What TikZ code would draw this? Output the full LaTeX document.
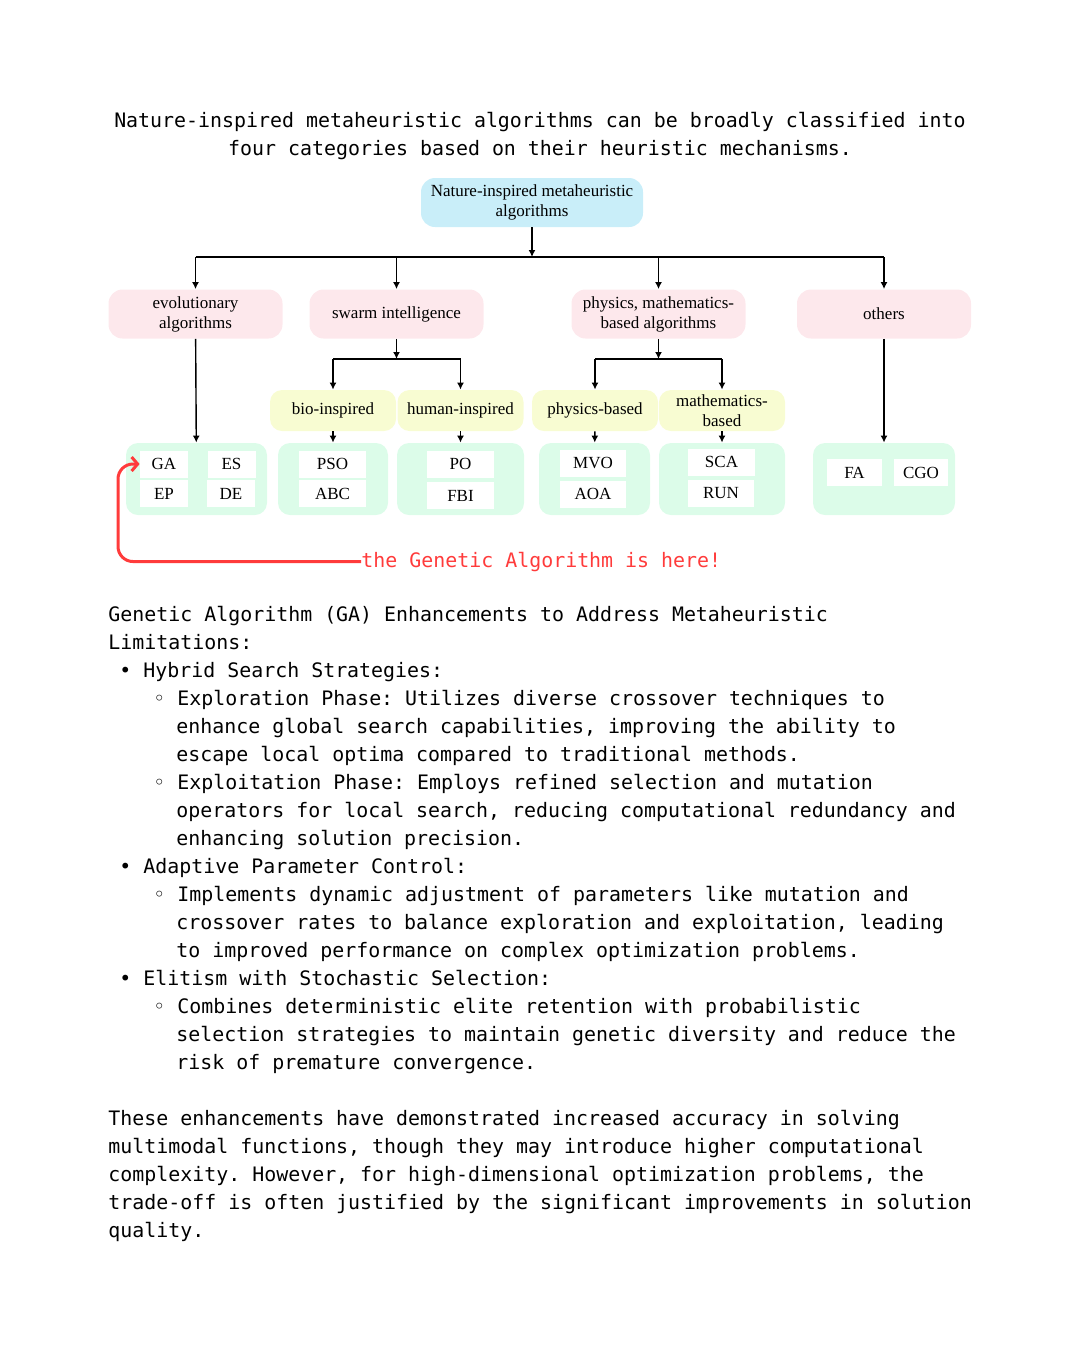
\documentclass[tikz,border=0pt]{standalone}
\usepackage{fontspec}
\setmainfont{Liberation Serif}
\newfontfamily\monofont{DejaVu Sans Mono}
\usetikzlibrary{arrows.meta}
\usetikzlibrary{calc}

\definecolor{rootblue}{RGB}{201,238,249}
\definecolor{catpink}{RGB}{253,232,236}
\definecolor{subyellow}{RGB}{248,252,210}
\definecolor{grpmint}{RGB}{220,252,233}
\definecolor{notered}{RGB}{255,59,59}

\tikzset{
  boxfont/.style={font=\fontsize{8.5}{10}\selectfont},
  conn/.style={-{Latex[length=3.5pt,width=3.5pt]}, line width=0.7pt},
  rootbox/.style={boxfont, fill=rootblue, rounded corners=7pt, minimum width=111pt, minimum height=24.5pt, align=center, inner sep=1pt},
  catbox/.style={boxfont, fill=catpink, rounded corners=7pt, minimum width=87pt, minimum height=24.5pt, align=center, inner sep=1pt},
  subbox/.style={boxfont, fill=subyellow, rounded corners=6pt, minimum width=63pt, minimum height=20.5pt, align=center, inner sep=1pt},
  grpbox/.style={fill=grpmint, rounded corners=6pt, minimum height=36pt, inner sep=0pt},
  algbox/.style={boxfont, fill=white, minimum height=13.5pt, inner sep=0pt},
  monotext/.style={font=\monofont\fontsize{9.96}{14}\selectfont\frenchspacing, anchor=base west, inner sep=0pt},
  notearrow/.style={-{Straight Barb[length=3pt,width=7pt]}, line width=1.5pt, notered, rounded corners=7.5pt}
}

\begin{document}
\begin{tikzpicture}[x=0.5pt,y=-0.5pt]

      \useasboundingbox (0,0) rectangle (1080,1350);

      % heading
      \node[monotext, anchor=base] (title1) at (540,127) {Nature-inspired metaheuristic algorithms can be broadly classified into};
      \node[monotext, anchor=base] (title2) at (540,155) {four categories based on their heuristic mechanisms.};

      % tree boxes
      \node[rootbox] (root) at (532,202.5) {Nature-inspired metaheuristic\\algorithms};

      \node[catbox] (evo)   at (195.5,314) {evolutionary\\algorithms};
      \node[catbox] (swarm) at (396.5,314) {swarm intelligence};
      \node[catbox] (phys)  at (658.5,314) {physics, mathematics-\\based algorithms};
      \node[catbox] (oth)   at (884,314)   {others};

      \node[subbox] (bio)   at (333,410.5)   {bio-inspired};
      \node[subbox] (human) at (460.5,410.5) {human-inspired};
      \node[subbox] (physb) at (595,410.5)   {physics-based};
      \node[subbox] (mathb) at (722,410.5)   {mathematics-\\based};

      % groups
      \foreach \n/\x/\w in {gevo/196.5/70.5, gbio/333/55, ghum/460.5/63.5,
                            gphy/594.5/55.5, gmat/722/63, goth/884/71}
        \node[grpbox, minimum width=\w pt] (\n) at (\x,479) {};

      % algorithm names
      \foreach \n/\x/\y/\w in {
        GA/164/464/24, ES/231.5/464/24, EP/164/493.5/24, DE/231/493.5/24,
        PSO/332.5/464/33.5, ABC/332.5/493.5/33.5,
        PO/460.5/464/33.5, FBI/460.5/495.5/33.5,
        MVO/593/463/33, AOA/593/494/33,
        SCA/721.5/462/33.5, RUN/721/493.5/33,
        FA/854.5/472.5/27.5, CGO/921/472.5/27}
        \node[algbox, minimum width=\w pt] (\n) at (\x,\y) {\n};

      % connectors
      \coordinate (bus) at (532,257);
      \draw[conn] (root) -- (bus);
      \draw[line width=0.7pt] (evo |- bus) -- (oth |- bus);
      \foreach \n in {evo,swarm,phys,oth}
        \draw[conn] (\n |- bus) -- (\n.north);

      \coordinate (swarmj) at (396.5,359);
      \draw[conn] (swarm) -- (swarmj);
      \draw[line width=0.7pt] (bio |- swarmj) -- (human |- swarmj);
      \foreach \n in {bio,human}
        \draw[conn] (\n |- swarmj) -- (\n.north);

      \coordinate (physj) at (658.5,359);
      \draw[conn] (phys) -- (physj);
      \draw[line width=0.7pt] (physb |- physj) -- (mathb |- physj);
      \foreach \n in {physb,mathb}
        \draw[conn] (\n |- physj) -- (\n.north);

      \foreach \a/\b in {evo/gevo, bio/gbio, human/ghum, physb/gphy, mathb/gmat, oth/goth}
        \draw[conn] (\a) -- (\b);

      % note on GA
      \node[monotext, text=notered] (note) at (361,567) {the Genetic Algorithm is here!};
      \coordinate (bend) at (118,464);
      \draw[notearrow] (note.west) -| (bend) -- (GA.west);

      % text below
      \foreach \k/\xx/\txt in {
        0/108/{Genetic Algorithm (GA) Enhancements to Address Metaheuristic},
        1/108/{Limitations:},
        2/119/{• Hybrid Search Strategies:},
        3/153/{◦ Exploration Phase: Utilizes diverse crossover techniques to},
        4/176/{enhance global search capabilities, improving the ability to},
        5/176/{escape local optima compared to traditional methods.},
        6/153/{◦ Exploitation Phase: Employs refined selection and mutation},
        7/176/{operators for local search, reducing computational redundancy and},
        8/176/{enhancing solution precision.},
        9/119/{• Adaptive Parameter Control:},
        10/153/{◦ Implements dynamic adjustment of parameters like mutation and},
        11/176/{crossover rates to balance exploration and exploitation, leading},
        12/176/{to improved performance on complex optimization problems.},
        13/119/{• Elitism with Stochastic Selection:},
        14/153/{◦ Combines deterministic elite retention with probabilistic},
        15/176/{selection strategies to maintain genetic diversity and reduce the},
        16/176/{risk of premature convergence.},
        18/108/{These enhancements have demonstrated increased accuracy in solving},
        19/108/{multimodal functions, though they may introduce higher computational},
        20/108/{complexity. However, for high-dimensional optimization problems, the},
        21/108/{trade-off is often justified by the significant improvements in solution},
        22/108/{quality.}}
        \node[monotext] (line\k) at (\xx,{621+28*\k}) {\txt};

\end{tikzpicture}
\end{document}
